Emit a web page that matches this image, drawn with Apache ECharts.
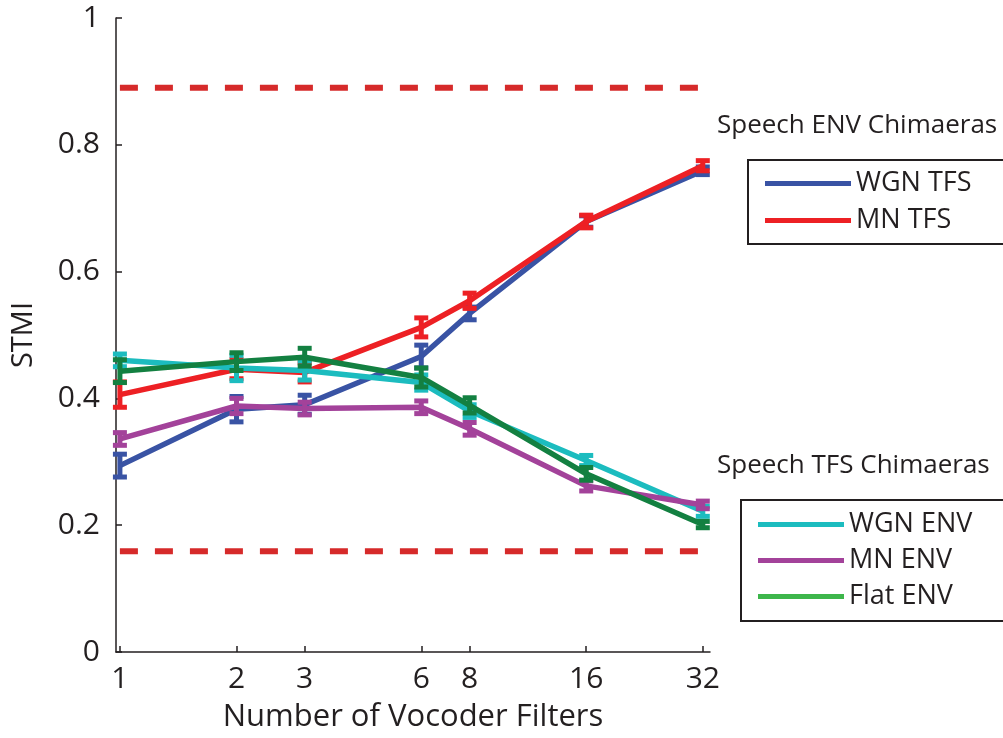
<!DOCTYPE html>
<html>
<head>
<meta charset="utf-8">
<script src="https://cdn.jsdelivr.net/npm/echarts@6/dist/echarts.min.js"></script>
<style>
html,body{margin:0;padding:0;background:#fff;}
#chart{width:1003px;height:738px;}
</style>
</head>
<body>
<div id="chart"></div>
<script>
const filters = [1, 2, 3, 6, 8, 16, 32];
const xTickLabels = [1, 2, 3, 6, 8, 16, 32];
const yTickLabels = [0, 0.2, 0.4, 0.6, 0.8, 1];

const seriesNames = ['WGN TFS', 'MN TFS', 'WGN ENV', 'MN ENV', 'Flat ENV'];
const wgnTfs  = [0.294, 0.383, 0.390, 0.466, 0.534, 0.679, 0.759];
const mnTfs   = [0.406, 0.446, 0.441, 0.512, 0.554, 0.679, 0.767];
const wgnEnv  = [0.460, 0.448, 0.444, 0.425, 0.380, 0.302, 0.222];
const mnEnv   = [0.336, 0.388, 0.384, 0.386, 0.352, 0.262, 0.232];
const flatEnv = [0.443, 0.458, 0.465, 0.433, 0.389, 0.281, 0.201];

const wgnTfsErr  = [0.018, 0.020, 0.015, 0.018, 0.010, 0.009, 0.006];
const mnTfsErr   = [0.020, 0.015, 0.015, 0.015, 0.012, 0.010, 0.008];
const wgnEnvErr  = [0.010, 0.020, 0.015, 0.012, 0.010, 0.008, 0.008];
const mnEnvErr   = [0.010, 0.012, 0.010, 0.010, 0.010, 0.008, 0.006];
const flatEnvErr = [0.018, 0.014, 0.014, 0.015, 0.012, 0.010, 0.005];

const refLevels = [0.89, 0.159];

const legendTitles = ['Speech ENV Chimaeras', 'Speech TFS Chimaeras'];

const values = [wgnTfs, mnTfs, wgnEnv, mnEnv, flatEnv];
const errors = [wgnTfsErr, mnTfsErr, wgnEnvErr, mnEnvErr, flatEnvErr];
const colors = ['#3953a4', '#ed2024', '#1cbcbf', '#a3429a', '#138041'];
const legendColors = ['#3953a4', '#ed2024', '#1cbcbf', '#a3429a', '#3db64b'];

const FONT = '"Open Sans", sans-serif';
const TXT = '#231f20';

const chart = echarts.init(document.getElementById('chart'), null, {renderer: 'canvas'});

const series = [];
refLevels.forEach(function (lv, k) {
  series.push({
    name: 'ref' + k,
    type: 'line',
    data: [[filters[0], lv], [filters[filters.length - 1], lv]],
    showSymbol: false,
    symbol: 'none',
    silent: true,
    lineStyle: {color: '#d62a2a', width: 6, type: [18, 17], cap: 'butt'},
    z: 2
  });
});

seriesNames.forEach(function (name, i) {
  series.push({
    name: name,
    type: 'line',
    data: filters.map(function (f, j) { return [f, values[i][j]]; }),
    symbol: 'none',
    showSymbol: false,
    lineStyle: {color: colors[i], width: 5.5, join: 'round'},
    itemStyle: {color: colors[i]},
    z: 3 + i * 2
  });
  series.push({
    name: name + ' err',
    type: 'custom',
    data: filters.map(function (f, j) {
      return [f, values[i][j] - errors[i][j], values[i][j] + errors[i][j]];
    }),
    renderItem: function (params, api) {
      const lo = api.coord([api.value(0), api.value(1)]);
      const hi = api.coord([api.value(0), api.value(2)]);
      const hw = 7;
      const style = {stroke: colors[i], lineWidth: 5, fill: null};
      return {
        type: 'group',
        children: [
          {type: 'line', shape: {x1: lo[0], y1: lo[1], x2: hi[0], y2: hi[1]}, style: style},
          {type: 'line', shape: {x1: lo[0] - hw, y1: lo[1], x2: lo[0] + hw, y2: lo[1]}, style: style},
          {type: 'line', shape: {x1: hi[0] - hw, y1: hi[1], x2: hi[0] + hw, y2: hi[1]}, style: style}
        ]
      };
    },
    z: 4 + i * 2
  });
});

function legendData(names, offset) {
  return names.map(function (n, k) {
    return {name: n, icon: 'path://M0,0L86,0L86,5L0,5Z',
      itemStyle: {color: legendColors[k + offset], borderWidth: 0}};
  });
}

const option = {
  backgroundColor: '#ffffff',
  animation: false,
  title: [
    {text: legendTitles[0], left: 717, top: 113, padding: 0,
     textStyle: {fontFamily: FONT, fontSize: 26, fontWeight: 'normal', color: TXT}},
    {text: legendTitles[1], left: 717, top: 453, padding: 0,
     textStyle: {fontFamily: FONT, fontSize: 26, fontWeight: 'normal', color: TXT}}
  ],
  legend: [
    {
      data: legendData(seriesNames.slice(0, 2), 0),
      orient: 'vertical', left: 748, top: 160,
      padding: [10, 60, 10, 17],
      itemWidth: 86, itemHeight: 5, itemGap: 10,
      borderColor: '#231f20', borderWidth: 2,
      textStyle: {fontFamily: FONT, fontSize: 27, color: TXT, lineHeight: 26}
    },
    {
      data: legendData(seriesNames.slice(2), 2),
      orient: 'vertical', left: 741, top: 500,
      padding: [11, 60, 11, 17],
      itemWidth: 86, itemHeight: 5, itemGap: 9,
      borderColor: '#231f20', borderWidth: 2,
      textStyle: {fontFamily: FONT, fontSize: 27, color: TXT, lineHeight: 26}
    }
  ],
  grid: {left: 116, right: 293, top: 18, bottom: 80, containLabel: false},
  xAxis: {
    type: 'log',
    logBase: 2,
    min: 0.977,
    max: 33.4,
    name: 'Number of Vocoder Filters',
    nameLocation: 'middle',
    nameGap: 50,
    nameTextStyle: {fontFamily: FONT, fontSize: 31, color: TXT},
    axisLine: {show: true, lineStyle: {color: TXT, width: 1.5}},
    axisTick: {show: true, inside: true, length: 6, customValues: xTickLabels, lineStyle: {color: TXT, width: 1.5}},
    axisLabel: {customValues: xTickLabels, fontFamily: FONT, fontSize: 30, color: TXT, margin: 12,
      formatter: function (v) { return String(Math.round(v)); }},
    splitLine: {show: false},
    minorTick: {show: false}
  },
  yAxis: {
    type: 'value',
    min: 0, max: 1, interval: 0.2,
    name: 'STMI',
    nameLocation: 'middle',
    nameGap: 78,
    nameRotate: 90,
    nameTextStyle: {fontFamily: FONT, fontSize: 29, color: TXT},
    axisLine: {show: true, lineStyle: {color: TXT, width: 1.5}},
    axisTick: {show: true, inside: true, length: 6, lineStyle: {color: TXT, width: 1.5}},
    axisLabel: {fontFamily: FONT, fontSize: 30, color: TXT, margin: 16,
      formatter: function (v) { return String(+v.toFixed(1)); }},
    splitLine: {show: false}
  },
  series: series
};

chart.setOption(option);
</script>
</body>
</html>
